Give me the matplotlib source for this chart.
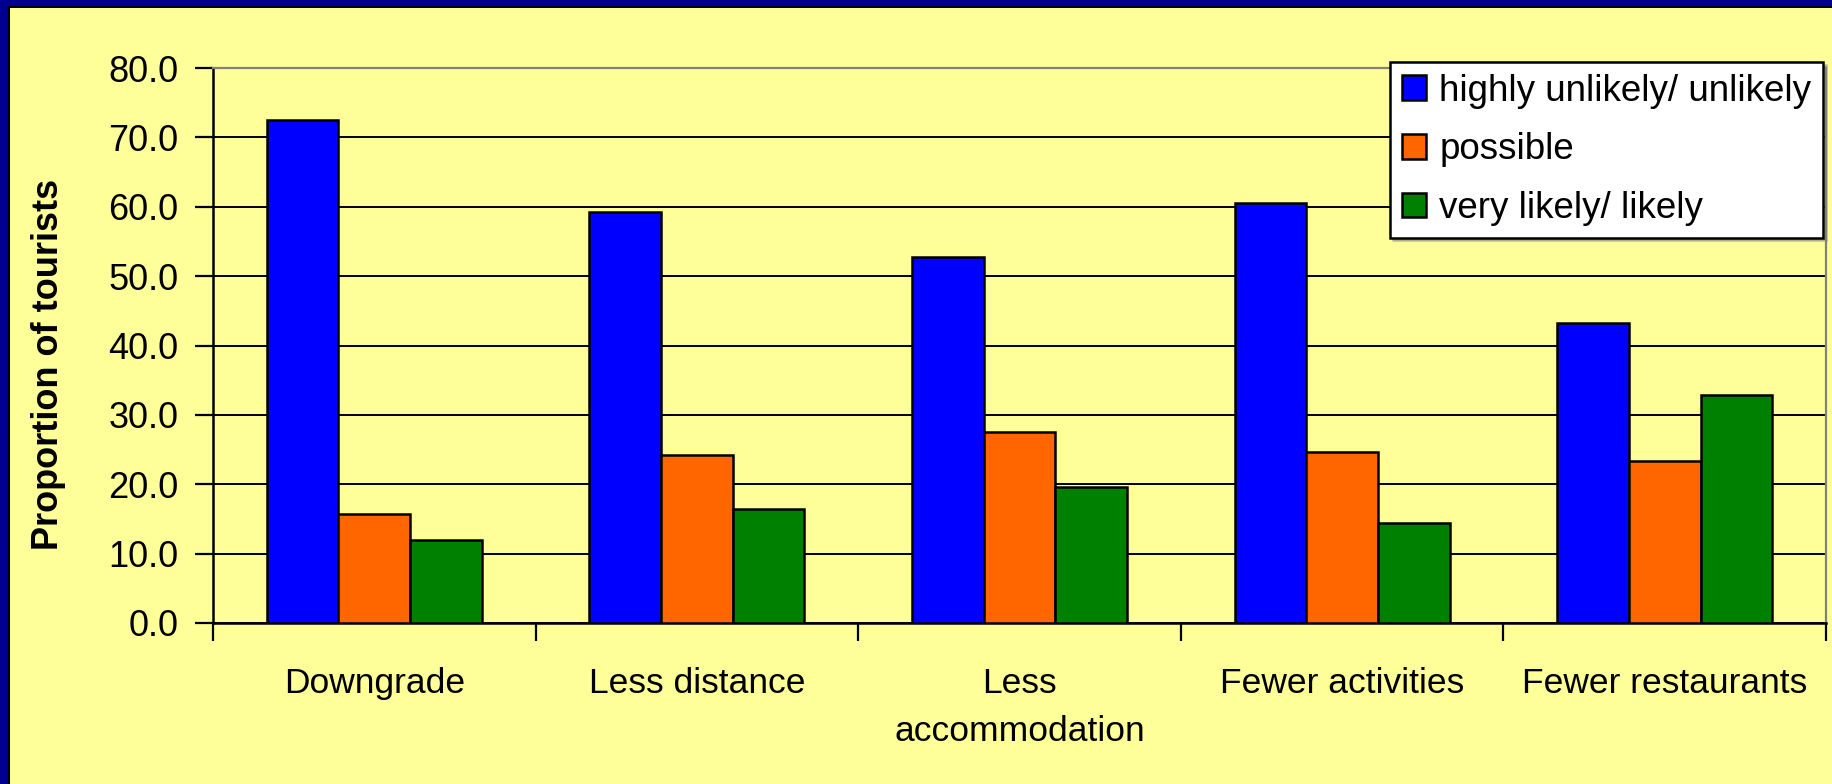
import matplotlib
matplotlib.use("Agg")
import matplotlib.pyplot as plt
from matplotlib.patches import Rectangle
import numpy as np

categories = ["Downgrade", "Less distance", "Less\naccommodation",
              "Fewer activities", "Fewer restaurants"]
unlikely = [72.5, 59.3, 52.7, 60.5, 43.2]
possible = [15.7, 24.2, 27.6, 24.6, 23.3]
likely = [11.9, 16.4, 19.6, 14.4, 32.9]
series_names = ["highly unlikely/ unlikely", "possible", "very likely/ likely"]
yticks = [0, 10, 20, 30, 40, 50, 60, 70, 80]

plt.rcParams['font.family'] = ['Liberation Sans', 'DejaVu Sans']

W, H = 1832, 784
fig = plt.figure(figsize=(W / 100, H / 100), dpi=100)
fig.patch.set_facecolor('#FFFF99')

# dark frame on left and top
fig.patches.append(Rectangle((0, 0), 8 / W, 1, transform=fig.transFigure,
                             facecolor='#000090', edgecolor='none', zorder=0))
fig.patches.append(Rectangle((0, 1 - 6 / H), 1, 6 / H, transform=fig.transFigure,
                             facecolor='#000090', edgecolor='none', zorder=0))
fig.patches.append(Rectangle((8 / W, 0), 2 / W, 1 - 6 / H, transform=fig.transFigure,
                             facecolor='black', edgecolor='none', zorder=0))
fig.patches.append(Rectangle((8 / W, 1 - 8 / H), 1 - 8 / W, 2 / H, transform=fig.transFigure,
                             facecolor='black', edgecolor='none', zorder=0))

left, right, bottom, top = 213 / W, 1826 / W, 1 - 623 / H, 1 - 68 / H
ax = fig.add_axes([left, bottom, right - left, top - bottom])
ax.set_facecolor('#FFFF99')

x = np.arange(len(categories))
w = 1 / 4.5
colors = ['#0000FF', '#FF6600', '#008000']
for i, (vals, c, name) in enumerate(zip([unlikely, possible, likely], colors, series_names)):
    ax.bar(x + (i - 1) * w, vals, width=w, color=c, edgecolor='black',
           linewidth=1.8, label=name, zorder=3)

ax.set_xlim(-0.5, len(categories) - 0.5)
ax.set_ylim(0, 80)
ax.set_yticks(yticks)
ax.set_yticklabels([f"{v:.1f}" for v in yticks])
ax.yaxis.grid(True, color='black', linewidth=1.4, zorder=0)
ax.set_axisbelow(True)

ax.set_xticks(np.arange(len(categories) + 1) - 0.5)
ax.set_xticklabels([])
ax.set_xticks(x, minor=True)
ax.set_xticklabels(categories, minor=True, linespacing=1.55)
ax.tick_params(axis='x', which='minor', length=0, pad=32, labelsize=25.5)
ax.tick_params(axis='x', which='major', length=13, width=1.6, direction='out')
ax.tick_params(axis='y', length=13, width=1.6, direction='out', pad=12, labelsize=26)

for s in ['left', 'bottom']:
    ax.spines[s].set_color('black')
    ax.spines[s].set_linewidth(1.8)
for s in ['top', 'right']:
    ax.spines[s].set_color('#808080')
    ax.spines[s].set_linewidth(1.6)

fig.text(49 / W, 1 - 364 / H, "Proportion of tourists", rotation=90,
         ha='center', va='center', fontsize=26, fontweight='bold')

leg = ax.legend(loc='upper right', bbox_to_anchor=(1823 / W, 1 - 62 / H),
                bbox_transform=fig.transFigure, fontsize=26.5, frameon=True,
                fancybox=False, shadow={'ox': 2, 'oy': -2, 'color': '#808080'},
                handlelength=0.66, handleheight=0.66, handletextpad=0.35,
                labelspacing=0.64, borderpad=0.32, borderaxespad=0)
leg.get_frame().set_edgecolor('black')
leg.get_frame().set_linewidth(1.8)
leg.get_frame().set_facecolor('white')
leg.get_frame().set_alpha(1)

fig.savefig("out.png", dpi=100, facecolor=fig.get_facecolor())
